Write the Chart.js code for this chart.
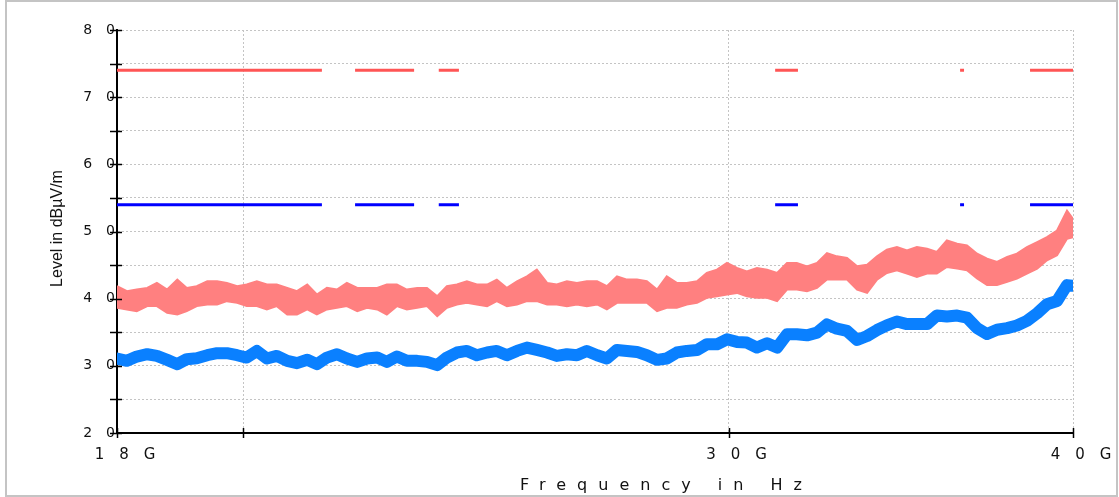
<!DOCTYPE html>
<html>
<head>
<meta charset="utf-8">
<script src="https://cdn.jsdelivr.net/npm/chart.js@4.4.1/dist/chart.umd.min.js"></script>
<style>
  html, body { margin: 0; padding: 0; background: #fff; }
  #wrap { position: relative; width: 1119px; height: 497px; }
  #frame { position: absolute; left: 5px; top: 0; width: 1113px; height: 497px; box-sizing: border-box; border: 2px solid #c4c4c4; }
  canvas { position: absolute; left: 0; top: 0; }
</style>
</head>
<body>
<div id="wrap">
  <div id="frame"></div>
  <canvas id="emi" width="1119" height="497"></canvas>
</div>
<script>
// sample frequencies (GHz) read along the sweep
const freqs = [
  18.00, 18.15, 18.30, 18.46, 18.61, 18.77, 18.93, 19.08, 19.24, 19.41,
  19.57, 19.73, 19.90, 20.06, 20.23, 20.40, 20.57, 20.75, 20.92, 21.10,
  21.27, 21.45, 21.63, 21.81, 22.00, 22.18, 22.37, 22.55, 22.74, 22.93,
  23.13, 23.32, 23.52, 23.71, 23.91, 24.11, 24.31, 24.52, 24.72, 24.93,
  25.14, 25.35, 25.56, 25.78, 25.99, 26.21, 26.43, 26.65, 26.88, 27.10,
  27.33, 27.56, 27.79, 28.02, 28.26, 28.49, 28.73, 28.97, 29.22, 29.46,
  29.71, 29.96, 30.21, 30.46, 30.72, 30.98, 31.24, 31.50, 31.76, 32.03,
  32.30, 32.57, 32.84, 33.12, 33.40, 33.68, 33.96, 34.24, 34.53, 34.82,
  35.11, 35.41, 35.70, 36.00, 36.31, 36.61, 36.92, 37.23, 37.54, 37.86,
  38.17, 38.49, 38.82, 39.14, 39.47, 39.80, 40.00
];

// peak trace: upper and lower edge of the noisy band (dBuV/m)
const peakHigh = [
  41.85, 41.11, 41.36, 41.60, 42.35, 41.36, 42.84, 41.60, 41.85, 42.59,
  42.59, 42.35, 41.85, 42.10, 42.59, 42.10, 42.10, 41.60, 41.11, 42.10,
  40.62, 41.60, 41.36, 42.35, 41.60, 41.60, 41.60, 42.10, 42.10, 41.36,
  41.60, 41.60, 40.37, 41.85, 42.10, 42.59, 42.10, 42.10, 42.84, 41.60,
  42.59, 43.33, 44.32, 42.35, 42.10, 42.59, 42.35, 42.59, 42.59, 41.85,
  43.33, 42.84, 42.84, 42.59, 41.36, 43.33, 42.35, 42.35, 42.59, 43.83,
  44.32, 45.31, 44.57, 44.07, 44.57, 44.32, 43.83, 45.31, 45.31, 44.81,
  45.31, 46.79, 46.30, 46.05, 44.81, 45.06, 46.30, 47.28, 47.68, 47.19,
  47.68, 47.44, 46.95, 48.67, 48.18, 47.93, 46.70, 45.96, 45.47, 46.21,
  46.70, 47.68, 48.42, 49.16, 50.15, 53.10, 51.87
];
const peakLow = [
  38.64, 38.40, 38.15, 38.89, 38.89, 37.90, 37.65, 38.15, 38.89, 39.14,
  39.14, 39.63, 39.38, 38.89, 38.89, 38.40, 38.89, 37.65, 37.65, 38.40,
  37.65, 38.40, 38.64, 38.89, 38.15, 38.64, 38.40, 37.65, 38.89, 38.40,
  38.64, 38.89, 37.41, 38.64, 39.14, 39.38, 39.14, 38.89, 39.63, 38.89,
  39.14, 39.63, 39.63, 39.14, 39.14, 38.89, 39.14, 38.89, 39.14, 38.40,
  39.38, 39.38, 39.38, 39.38, 38.15, 38.64, 38.64, 39.14, 39.38, 40.12,
  40.37, 40.62, 40.86, 40.37, 40.12, 40.12, 39.63, 41.36, 41.36, 41.11,
  41.60, 42.84, 42.84, 42.84, 41.36, 40.86, 42.84, 43.83, 44.24, 43.74,
  43.25, 43.74, 43.74, 44.73, 44.48, 44.24, 43.00, 42.02, 42.02, 42.51,
  43.00, 43.74, 44.48, 45.71, 46.45, 48.92, 49.16
];

// average trace
const avgLevel = [
  31.09, 30.74, 31.38, 31.73, 31.48, 30.89, 30.25, 30.99, 31.14, 31.58,
  31.88, 31.88, 31.58, 31.23, 32.22, 31.09, 31.48, 30.74, 30.40, 30.90,
  30.25, 31.23, 31.73, 31.09, 30.59, 31.09, 31.23, 30.59, 31.38, 30.74,
  30.74, 30.59, 30.10, 31.23, 31.98, 32.22, 31.58, 31.98, 32.22, 31.58,
  32.22, 32.72, 32.37, 31.98, 31.48, 31.73, 31.58, 32.22, 31.58, 31.09,
  32.37, 32.22, 32.07, 31.58, 30.89, 31.09, 31.98, 32.22, 32.35, 33.21,
  33.21, 33.95, 33.56, 33.46, 32.72, 33.36, 32.72, 34.69, 34.69, 34.54,
  34.94, 36.17, 35.53, 35.19, 33.85, 34.44, 35.33, 36.02, 36.60, 36.21,
  36.21, 36.21, 37.49, 37.34, 37.49, 37.19, 35.62, 34.73, 35.37, 35.62,
  36.01, 36.70, 37.83, 39.16, 39.66, 42.02, 41.92
];

// limit lines, drawn only over these frequency segments
const peakLimit = 74;
const avgLimit = 54;
const limitSegStart = [18.00, 21.96, 23.55, 31.19, 36.40, 38.59];
const limitSegEnd = [21.36, 23.07, 23.95, 31.79, 36.52, 40.00];

const EM = '\u2003';
const xTickValues = [18, 20, 30, 40];
const xTickLabels = ['1' + EM + '8' + EM + 'G', '', '3' + EM + '0' + EM + 'G', '4' + EM + '0' + EM + 'G'];
const xTitle = 'Frequency in Hz';
const yTitle = 'Level in dBµV/m';

function traceData(ys) {
  return freqs.map((f, i) => ({ x: f, y: ys[i] }));
}

function limitData(level) {
  const pts = [];
  limitSegStart.forEach((s, i) => {
    pts.push({ x: s, y: level });
    pts.push({ x: limitSegEnd[i], y: level });
    pts.push({ x: limitSegEnd[i], y: null });
  });
  return pts;
}

// tick marks crossing the axes + axis titles
const axisMarks = {
  id: 'axisMarks',
  afterDraw(chart) {
    const { ctx, chartArea, scales } = chart;
    ctx.save();
    ctx.strokeStyle = '#000';
    ctx.lineWidth = 1.5;
    scales.y.ticks.forEach(t => {
      const y = Math.round(scales.y.getPixelForValue(t.value)) + 0.5;
      ctx.beginPath();
      ctx.moveTo(chartArea.left - 7, y);
      ctx.lineTo(chartArea.left + 5, y);
      ctx.stroke();
    });
    xTickValues.forEach(v => {
      const x = Math.round(scales.x.getPixelForValue(v)) + 0.5;
      ctx.beginPath();
      ctx.moveTo(x, chartArea.bottom - 5);
      ctx.lineTo(x, chartArea.bottom + 5);
      ctx.stroke();
    });

    ctx.fillStyle = '#111';
    ctx.font = '16px "DejaVu Sans"';
    ctx.letterSpacing = '11px';
    ctx.textAlign = 'left';
    ctx.textBaseline = 'alphabetic';
    ctx.fillText(xTitle, chartArea.left + 403, chartArea.bottom + 57);
    ctx.letterSpacing = '0px';

    ctx.font = '16px "Liberation Sans"';
    ctx.translate(58, (chartArea.top + chartArea.bottom) / 2 - 3);
    ctx.rotate(-Math.PI / 2);
    ctx.textAlign = 'center';
    ctx.textBaseline = 'middle';
    ctx.fillText(yTitle, 0, 0);
    ctx.restore();
  }
};

new Chart(document.getElementById('emi'), {
  type: 'line',
  data: {
    datasets: [
      { data: limitData(peakLimit), borderColor: '#ff5555', borderWidth: 3, borderCapStyle: 'butt', spanGaps: false },
      { data: limitData(avgLimit), borderColor: '#0000ff', borderWidth: 3, borderCapStyle: 'butt', spanGaps: false },
      { data: traceData(avgLevel), borderColor: '#0a80ff', borderWidth: 12, borderJoinStyle: 'round', borderCapStyle: 'round' },
      { data: traceData(peakLow), borderColor: '#ff8080', borderWidth: 2, fill: false },
      { data: traceData(peakHigh), borderColor: '#ff8080', borderWidth: 2, backgroundColor: '#ff8080', fill: '-1' }
    ]
  },
  options: {
    responsive: false,
    animation: false,
    layout: { padding: { left: 0, right: 46, top: 30, bottom: 0 } },
    elements: { point: { radius: 0 }, line: { tension: 0 } },
    plugins: { legend: { display: false }, tooltip: { enabled: false } },
    scales: {
      x: {
        type: 'logarithmic',
        min: 18,
        max: 40,
        afterBuildTicks: scale => { scale.ticks = xTickValues.map(v => ({ value: v })); },
        afterFit: scale => { scale.height = 64; },
        grid: { color: '#c4c4c4', drawTicks: false },
        border: { display: true, color: '#000', width: 2, dash: [2, 2] },
        ticks: {
          autoSkip: false,
          maxRotation: 0,
          padding: 13,
          labelOffset: 8,
          color: '#111',
          font: { family: 'DejaVu Sans', size: 15 },
          callback: value => xTickLabels[xTickValues.indexOf(value)]
        }
      },
      y: {
        min: 20,
        max: 80,
        afterFit: scale => { scale.width = 117; },
        grid: { color: '#c4c4c4', drawTicks: false },
        border: { display: true, color: '#000', width: 2, dash: [2, 2] },
        ticks: {
          stepSize: 5,
          padding: 2,
          color: '#111',
          font: { family: 'DejaVu Sans', size: 14 },
          callback: value => value % 10 === 0 ? String(value).split('').join(EM) : ''
        }
      }
    }
  },
  plugins: [axisMarks]
});
</script>
</body>
</html>
